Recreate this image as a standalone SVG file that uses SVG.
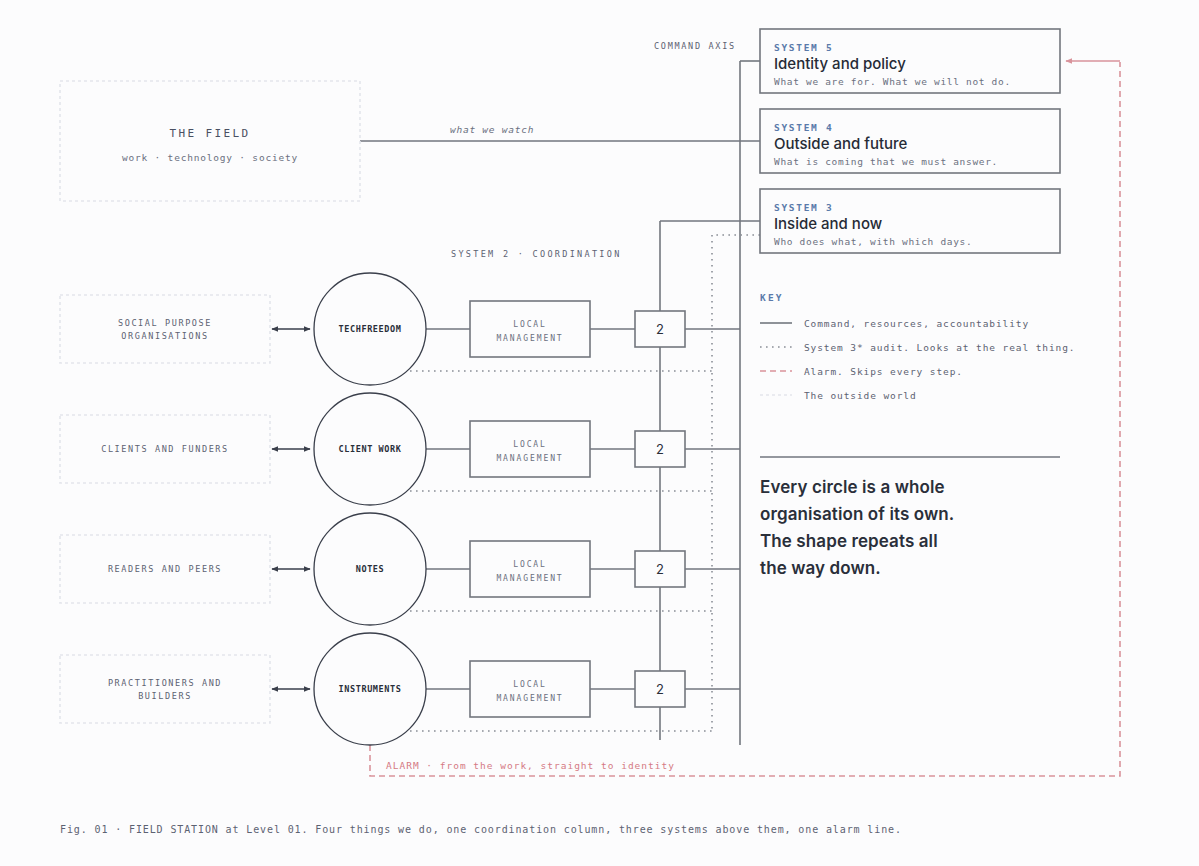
<svg xmlns="http://www.w3.org/2000/svg" width="1199" height="866" viewBox="0 0 1199 866">
<defs>
<style>
.mono{font-family:"DejaVu Sans Mono","Liberation Mono",monospace}
.sans{font-family:Inter,"Noto Sans",sans-serif}
.ln{stroke:#72767e;stroke-width:1.6;fill:none}
.dot{stroke:#8a8e96;stroke-width:1.6;fill:none;stroke-dasharray:1.6 4.4}
.alarm{stroke:#d9939b;stroke-width:1.6;fill:none;stroke-dasharray:6 4}
.out{stroke:#e3e5ec;stroke-width:1.6;fill:none;stroke-dasharray:3 3}
.sys{fill:#fcfcfd;stroke:#72767e;stroke-width:1.6}
.syslab{font-size:9.5px;letter-spacing:1.7px;fill:#5a7aaa;font-weight:bold}
.systitle{font-size:15px;font-weight:500;fill:#262b36}
.syssub{font-size:9.5px;letter-spacing:0.68px;fill:#6b7080}
.circ{fill:#fcfcfd;stroke:#3a3f4b;stroke-width:1.3}
.clab{font-size:8.5px;font-weight:bold;fill:#2a2f3a;letter-spacing:0.6px}
.lm{fill:#fcfcfd;stroke:#72767e;stroke-width:1.6}
.lmt{font-size:8px;letter-spacing:1.9px;fill:#6b7080}
.olab{font-size:8.5px;letter-spacing:1.6px;fill:#5c6272}
.keyt{font-size:9.5px;letter-spacing:0.9px;fill:#5c6272}
.big{font-size:17px;font-weight:600;fill:#2a2f3a}
</style>
<marker id="ah" viewBox="0 0 10 10" refX="9" refY="5" markerWidth="7" markerHeight="7" orient="auto-start-reverse" markerUnits="userSpaceOnUse"><path d="M0,1 L10,5 L0,9 z" fill="#3a3f4b"/></marker>
<marker id="ahr" viewBox="0 0 10 10" refX="9" refY="5" markerWidth="7" markerHeight="7" orient="auto" markerUnits="userSpaceOnUse"><path d="M0,1 L10,5 L0,9 z" fill="#d9939b"/></marker>
</defs>
<rect width="1199" height="866" fill="#fcfcfd"/>

<g id="connectors">
<line class="ln" x1="740" y1="61" x2="740" y2="745"/>
<line class="ln" x1="740" y1="61" x2="760" y2="61"/>
<line class="ln" x1="360" y1="141" x2="760" y2="141"/>
<line class="ln" x1="660" y1="221" x2="760" y2="221"/>
<line class="ln" x1="660" y1="221" x2="660" y2="740"/>
<g>
<line class="ln" x1="426" y1="329" x2="470" y2="329"/><line class="ln" x1="590" y1="329" x2="635" y2="329"/><line class="ln" x1="685" y1="329" x2="740" y2="329"/>
<line class="ln" x1="426" y1="449" x2="470" y2="449"/><line class="ln" x1="590" y1="449" x2="635" y2="449"/><line class="ln" x1="685" y1="449" x2="740" y2="449"/>
<line class="ln" x1="426" y1="569" x2="470" y2="569"/><line class="ln" x1="590" y1="569" x2="635" y2="569"/><line class="ln" x1="685" y1="569" x2="740" y2="569"/>
<line class="ln" x1="426" y1="689" x2="470" y2="689"/><line class="ln" x1="590" y1="689" x2="635" y2="689"/><line class="ln" x1="685" y1="689" x2="740" y2="689"/>
</g>
<g stroke="#3a3f4b" stroke-width="1.6">
<line x1="272" y1="329" x2="310" y2="329" marker-start="url(#ah)" marker-end="url(#ah)"/>
<line x1="272" y1="449" x2="310" y2="449" marker-start="url(#ah)" marker-end="url(#ah)"/>
<line x1="272" y1="569" x2="310" y2="569" marker-start="url(#ah)" marker-end="url(#ah)"/>
<line x1="272" y1="689" x2="310" y2="689" marker-start="url(#ah)" marker-end="url(#ah)"/>
</g>
<path class="dot" d="M760,235 H712 V731"/>
<line class="dot" x1="410" y1="371" x2="712" y2="371"/>
<line class="dot" x1="410" y1="491" x2="712" y2="491"/>
<line class="dot" x1="410" y1="611" x2="712" y2="611"/>
<line class="dot" x1="410" y1="731" x2="712" y2="731"/>
<path class="alarm" d="M370,745 V776 H1120 V62"/>
<line x1="1120" y1="61" x2="1066" y2="61" stroke="#d9939b" stroke-width="1.6" marker-end="url(#ahr)"/>
<text class="mono" x="450" y="133" font-size="9.5" font-style="italic" letter-spacing="0.75" fill="#6b7080">what we watch</text>
<text class="mono" x="386" y="769" font-size="9.5" letter-spacing="1" fill="#d57a84">ALARM · from the work, straight to identity</text>
</g>

<text class="mono" x="654" y="49" font-size="8.5" letter-spacing="1.7" fill="#5c6272">COMMAND AXIS</text>
<text class="mono" x="451" y="257" font-size="8.5" letter-spacing="2.3" fill="#5c6272">SYSTEM 2 · COORDINATION</text>

<g id="field">
<rect class="out" x="60" y="81" width="300" height="120"/>
<text class="mono" x="210" y="137" text-anchor="middle" font-size="11" letter-spacing="2.4" fill="#4a5062">THE FIELD</text>
<text class="mono" x="210" y="161" text-anchor="middle" font-size="9.5" letter-spacing="0.8" fill="#6b7080">work · technology · society</text>
</g>

<g id="s5"><rect class="sys" x="760" y="29" width="300" height="64"/>
<text class="mono syslab" x="774" y="51">SYSTEM 5</text>
<text class="sans systitle" x="774" y="69">Identity and policy</text>
<text class="mono syssub" x="774" y="85">What we are for. What we will not do.</text></g>
<g id="s4"><rect class="sys" x="760" y="109" width="300" height="64"/>
<text class="mono syslab" x="774" y="131">SYSTEM 4</text>
<text class="sans systitle" x="774" y="149">Outside and future</text>
<text class="mono syssub" x="774" y="165">What is coming that we must answer.</text></g>
<g id="s3"><rect class="sys" x="760" y="189" width="300" height="64"/>
<text class="mono syslab" x="774" y="211">SYSTEM 3</text>
<text class="sans systitle" x="774" y="229">Inside and now</text>
<text class="mono syssub" x="774" y="245">Who does what, with which days.</text></g>

<g id="row1">
<rect class="out" x="60" y="295" width="210" height="68"/>
<text class="mono olab" x="165" y="326" text-anchor="middle">SOCIAL PURPOSE</text>
<text class="mono olab" x="165" y="339" text-anchor="middle">ORGANISATIONS</text>
<circle class="circ" cx="370" cy="329" r="56"/>
<text class="mono clab" x="370" y="332" text-anchor="middle">TECHFREEDOM</text>
<rect class="lm" x="470" y="301" width="120" height="56"/>
<text class="mono lmt" x="530" y="327" text-anchor="middle">LOCAL</text>
<text class="mono lmt" x="530" y="341" text-anchor="middle">MANAGEMENT</text>
<rect class="lm" x="635" y="311" width="50" height="36"/>
<text class="sans" x="660" y="334" text-anchor="middle" font-size="13" fill="#2a2f3a">2</text>
</g>
<g id="row2">
<rect class="out" x="60" y="415" width="210" height="68"/>
<text class="mono olab" x="165" y="452" text-anchor="middle">CLIENTS AND FUNDERS</text>
<circle class="circ" cx="370" cy="449" r="56"/>
<text class="mono clab" x="370" y="452" text-anchor="middle">CLIENT WORK</text>
<rect class="lm" x="470" y="421" width="120" height="56"/>
<text class="mono lmt" x="530" y="447" text-anchor="middle">LOCAL</text>
<text class="mono lmt" x="530" y="461" text-anchor="middle">MANAGEMENT</text>
<rect class="lm" x="635" y="431" width="50" height="36"/>
<text class="sans" x="660" y="454" text-anchor="middle" font-size="13" fill="#2a2f3a">2</text>
</g>
<g id="row3">
<rect class="out" x="60" y="535" width="210" height="68"/>
<text class="mono olab" x="165" y="572" text-anchor="middle">READERS AND PEERS</text>
<circle class="circ" cx="370" cy="569" r="56"/>
<text class="mono clab" x="370" y="572" text-anchor="middle">NOTES</text>
<rect class="lm" x="470" y="541" width="120" height="56"/>
<text class="mono lmt" x="530" y="567" text-anchor="middle">LOCAL</text>
<text class="mono lmt" x="530" y="581" text-anchor="middle">MANAGEMENT</text>
<rect class="lm" x="635" y="551" width="50" height="36"/>
<text class="sans" x="660" y="574" text-anchor="middle" font-size="13" fill="#2a2f3a">2</text>
</g>
<g id="row4">
<rect class="out" x="60" y="655" width="210" height="68"/>
<text class="mono olab" x="165" y="686" text-anchor="middle">PRACTITIONERS AND</text>
<text class="mono olab" x="165" y="699" text-anchor="middle">BUILDERS</text>
<circle class="circ" cx="370" cy="689" r="56"/>
<text class="mono clab" x="370" y="692" text-anchor="middle">INSTRUMENTS</text>
<rect class="lm" x="470" y="661" width="120" height="56"/>
<text class="mono lmt" x="530" y="687" text-anchor="middle">LOCAL</text>
<text class="mono lmt" x="530" y="701" text-anchor="middle">MANAGEMENT</text>
<rect class="lm" x="635" y="671" width="50" height="36"/>
<text class="sans" x="660" y="694" text-anchor="middle" font-size="13" fill="#2a2f3a">2</text>
</g>

<g id="key">
<text class="mono" x="760" y="301" font-size="9.5" font-weight="bold" letter-spacing="2.2" fill="#5a7aaa">KEY</text>
<line class="ln" x1="760" y1="323" x2="792" y2="323"/>
<line class="dot" x1="760" y1="347" x2="792" y2="347"/>
<line class="alarm" x1="760" y1="371" x2="792" y2="371"/>
<line class="out" x1="760" y1="395" x2="792" y2="395"/>
<text class="mono keyt" x="804" y="327">Command, resources, accountability</text>
<text class="mono keyt" x="804" y="351">System 3* audit. Looks at the real thing.</text>
<text class="mono keyt" x="804" y="375">Alarm. Skips every step.</text>
<text class="mono keyt" x="804" y="399">The outside world</text>
</g>

<g id="note">
<line class="ln" x1="760" y1="457" x2="1060" y2="457"/>
<text class="sans big" x="760" y="493" letter-spacing="0.1">Every circle is a whole</text>
<text class="sans big" x="760" y="520" letter-spacing="0.1">organisation of its own.</text>
<text class="sans big" x="760" y="547" letter-spacing="0.1">The shape repeats all</text>
<text class="sans big" x="760" y="574" letter-spacing="0.1">the way down.</text>
</g>

<text class="mono" x="60" y="833" font-size="10" letter-spacing="0.88" fill="#5c6272">Fig. 01 · FIELD STATION at Level 01. Four things we do, one coordination column, three systems above them, one alarm line.</text>
</svg>
